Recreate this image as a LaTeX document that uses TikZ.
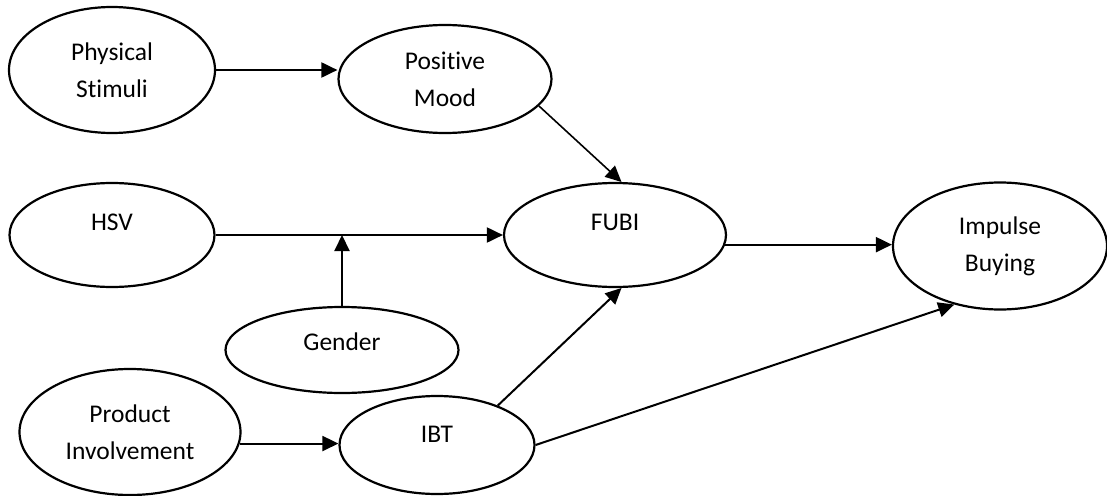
\documentclass[tikz,border=0pt]{standalone}
\usepackage{fontspec}
\setmainfont{Carlito}[Ligatures=NoCommon]
\usetikzlibrary{shapes.geometric,arrows.meta}

\begin{document}
\begin{tikzpicture}[x=1pt,y=-1pt,
  var/.style={draw,ellipse,line width=2.2pt,inner sep=0pt,align=center,
    font=\fontsize{25.5}{37}\selectfont},
  lift/.style={text depth=#1},
  arr/.style={-{Triangle[length=16pt,width=15pt]},line width=2pt}]
  \useasboundingbox (0,0) rectangle (1107,495);
  % ---- top row ----
  \node[var,minimum width=206pt,minimum height=126pt] (phys) at (112,70)
     {Physical\\Stimuli};
  \node[var,minimum width=213pt,minimum height=108pt] (pos) at (445,79)
     {Positive\\Mood};
  % ---- middle row ----
  \node[var,lift=26pt,minimum width=205pt,minimum height=104pt] (hsv)
     at (112,235) {HSV};
  \node[var,lift=26pt,minimum width=222pt,minimum height=104pt] (fubi)
     at (615,235) {FUBI};
  \node[var,minimum width=214pt,minimum height=127pt] (imp) at (1000,246)
     {Impulse\\Buying};
  \node[var,lift=16pt,minimum width=233pt,minimum height=86pt] (gen)
     at (342,350) {Gender};
  % ---- bottom row ----
  \node[var,minimum width=221pt,minimum height=126pt] (pi) at (130,432)
     {Product\\Involvement};
  \node[var,lift=22pt,minimum width=195pt,minimum height=98pt] (ibt)
     at (437,445) {IBT};
  % ---- paths ----
  \draw[arr] (phys.east) -- (phys.east -| pos.west);
  \draw[arr,line width=1.6pt] (pos.-16) -- (fubi.83);
  \draw[arr] (hsv) -- (fubi);
  \coordinate (mod) at (gen.north |- hsv.east);
  \draw[arr] (gen) -- (mod);
  \draw[arr] (fubi.-5) -- (fubi.-5 -| imp.west);
  \draw[arr] (pi.-6) -- (pi.-6 -| ibt.west);
  \draw[arr] (ibt.33) -- (fubi.-83);
  \draw[arr] (ibt.east) -- (imp.-128);
\end{tikzpicture}
\end{document}
